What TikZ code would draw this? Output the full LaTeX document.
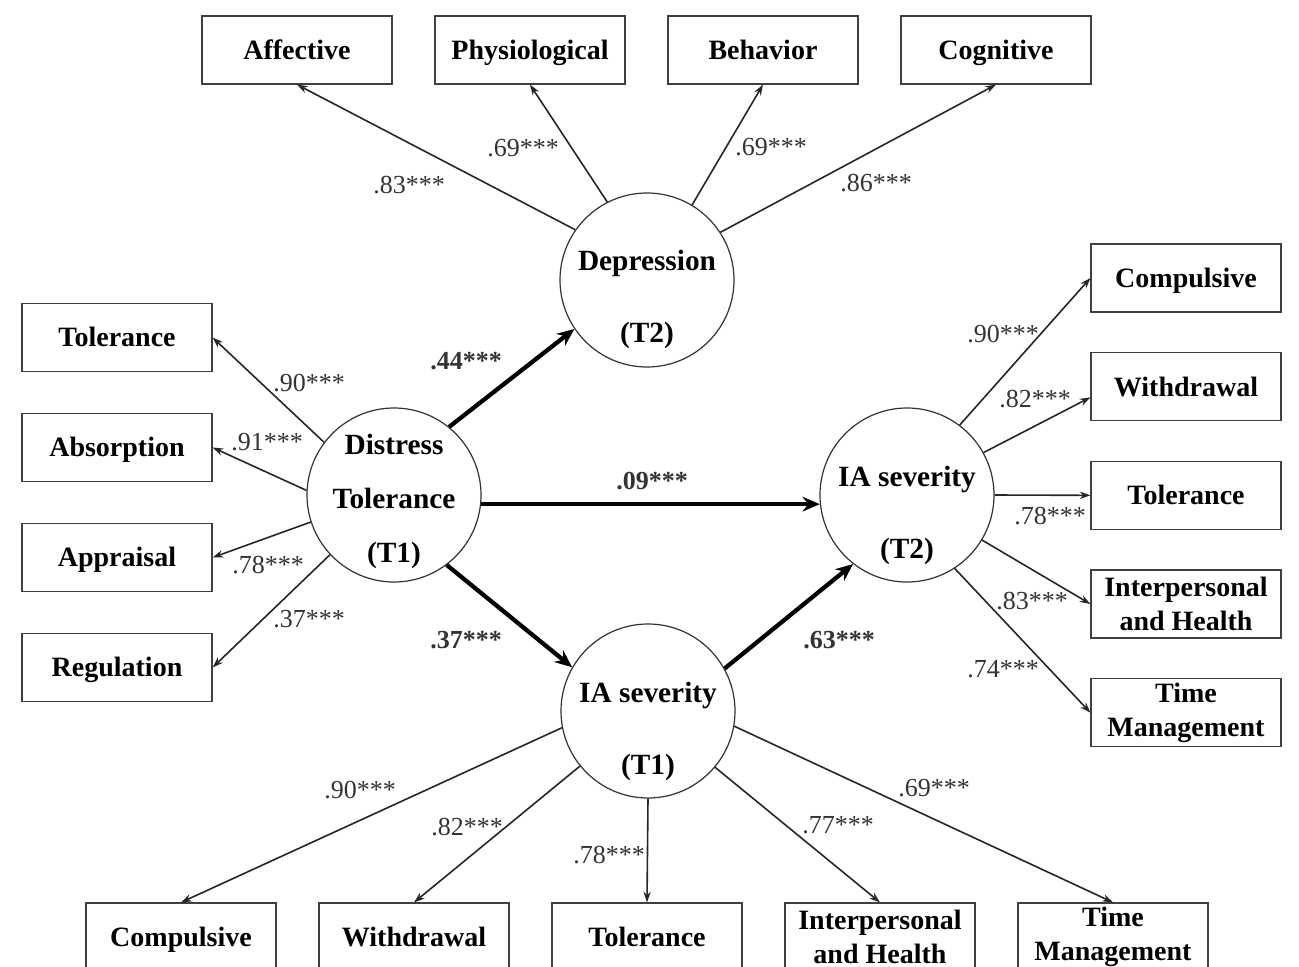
\documentclass[tikz,border=0pt]{standalone}
\usepackage{fontspec}
\setmainfont{Liberation Serif}
\usepackage{tikz}
\usetikzlibrary{arrows.meta}
\definecolor{coefgray}{HTML}{333333}

\tikzset{
  indicator/.style={draw=black!75, line width=0.9pt, rectangle, minimum width=142.5pt, minimum height=51pt, inner sep=2pt, align=center, font=\bfseries\fontsize{21}{25.5}\selectfont},
  oneline/.style={indicator, text height=14pt, text depth=0pt},
  latent/.style={draw=black!80, line width=0.9pt, circle, minimum size=130.5pt, inner sep=0pt},
  latentname/.style={align=center, inner sep=0pt, font=\bfseries\fontsize{22}{54.5}\selectfont},
  coef/.style={text=coefgray, inner sep=0pt, font=\fontsize{19.5}{23}\selectfont},
  loading/.style={-{Stealth[length=8pt,width=5.5pt]}, line width=1.2pt, draw=black!85},
  structural/.style={-{Stealth[length=13pt,width=11pt]}, line width=3.2pt},
}

\begin{document}
\begin{tikzpicture}[x=0.75pt, y=-0.75pt]
				\useasboundingbox (0,0) rectangle (1299,967);
				\clip (0,0) rectangle (1299,967);

				% latent variables
				\node (dep) [latent] at (647,280) {};
				\node (dt) [latent] at (394,495) {};
				\node (ia1) [latent] at (648,711) {};
				\node (ia2) [latent] at (907,495) {};
				\node (deplbl) [latentname] at (647,299.5) {Depression\\(T2)};
				\node (dtlbl) [latentname, font=\bfseries\fontsize{22}{40.5}\selectfont] at (394,501.5) {Distress\\Tolerance\\(T1)};
				\node (ia1lbl) [latentname] at (648,731.5) {IA severity\\(T1)};
				\node (ia2lbl) [latentname] at (907,515.5) {IA severity\\(T2)};

				% depression indicators
				\node (aff) [oneline] at (297,50) {Affective};
				\node (phy) [oneline, right of=aff, node distance=174.75pt] {Physiological};
				\node (beh) [oneline, right of=phy, node distance=174.75pt] {Behavior};
				\node (cog) [oneline, right of=beh, node distance=174.75pt] {Cognitive};

				% distress tolerance indicators
				\node (ltol) [oneline] at (117,337.5) {Tolerance};
				\node (labs) [oneline, below of=ltol, node distance=82.5pt] {Absorption};
				\node (lapp) [oneline, below of=labs, node distance=82.5pt] {Appraisal};
				\node (lreg) [oneline, below of=lapp, node distance=82.5pt] {Regulation};

				% IA severity (T2) indicators
				\node (rcom) [oneline] at (1186,278) {Compulsive};
				\node (rwit) [oneline, below of=rcom, node distance=81.5pt] {Withdrawal};
				\node (rtol) [oneline, below of=rwit, node distance=81.5pt] {Tolerance};
				\node (rint) [indicator, below of=rtol, node distance=81.5pt] {Interpersonal\\and Health};
				\node (rtim) [indicator, below of=rint, node distance=81.5pt] {Time\\Management};

				% IA severity (T1) indicators
				\node (bcom) [oneline] at (181,937) {Compulsive};
				\node (bwit) [oneline, right of=bcom, node distance=174.75pt] {Withdrawal};
				\node (btol) [oneline, right of=bwit, node distance=174.75pt] {Tolerance};
				\node (bint) [indicator, right of=btol, node distance=174.75pt] {Interpersonal\\and Health};
				\node (btim) [indicator, right of=bint, node distance=174.75pt] {Time\\Management};

				% Structural paths
				\draw[structural] (dt.51) -- (dep.214);
				\draw[structural] (dt.-6) -- (ia2.186);
				\draw[structural] (dt.-53) -- (ia1.150);
				\draw[structural] (ia1.29) -- (ia2.232);
				\node (b44) [coef, font=\bfseries\fontsize{19.5}{23}\selectfont] at (466,361) {.44***};
				\node (b09) [coef, font=\bfseries\fontsize{19.5}{23}\selectfont] at (652,481) {.09***};
				\node (b37) [coef, font=\bfseries\fontsize{19.5}{23}\selectfont] at (466,640) {.37***};
				\node (b63) [coef, font=\bfseries\fontsize{19.5}{23}\selectfont] at (839,640) {.63***};

				% Loadings
				\draw[loading] (dep.145) -- (aff.south);
				\draw[loading] (dep.117) -- (phy.south);
				\draw[loading] (dep.59) -- (beh.south);
				\draw[loading] (dep.33) -- (cog.south);
				\node (laff) [coef] at (409,185) {.83***};
				\node (lphy) [coef] at (523,148) {.69***};
				\node (lbeh) [coef] at (771,147) {.69***};
				\node (lcog) [coef] at (876,183) {.86***};

				\draw[loading] (dt.143) -- (ltol.east);
				\draw[loading] (dt.177) -- (labs.east);
				\draw[loading] (dt.198) -- (lapp.east);
				\draw[loading] (dt.223) -- (lreg.east);
				\node (lltol) [coef] at (309,383) {.90***};
				\node (llabs) [coef] at (267,442) {.91***};
				\node (llapp) [coef] at (268,565) {.78***};
				\node (llreg) [coef] at (309,619) {.37***};

				\draw[loading] (ia2.53) -- (rcom.west);
				\draw[loading] (ia2.29) -- ([yshift=-8pt]rwit.west);
				\draw[loading] (ia2.0) -- (rtol.west);
				\draw[loading] (ia2.-31) -- (rint.west);
				\draw[loading] (ia2.-57) -- (rtim.west);
				\node (lrcom) [coef] at (1003,334) {.90***};
				\node (lrwit) [coef] at (1035,399) {.82***};
				\node (lrtol) [coef] at (1050,516) {.78***};
				\node (lrint) [coef] at (1032,601) {.83***};
				\node (lrtim) [coef] at (1003,669) {.74***};

				\draw[loading] (ia1.191) -- (bcom.north);
				\draw[loading] (ia1.219) -- (bwit.north);
				\draw[loading] (ia1.270) -- (btol.north);
				\draw[loading] (ia1.320) -- (bint.north);
				\draw[loading] (ia1.350) -- (btim.north);
				\node (lbcom) [coef] at (360,790) {.90***};
				\node (lbwit) [coef] at (467,827) {.82***};
				\node (lbtol) [coef] at (609,855) {.78***};
				\node (lbint) [coef] at (838,825) {.77***};
				\node (lbtim) [coef] at (934,788) {.69***};
			\end{tikzpicture}
\end{document}
